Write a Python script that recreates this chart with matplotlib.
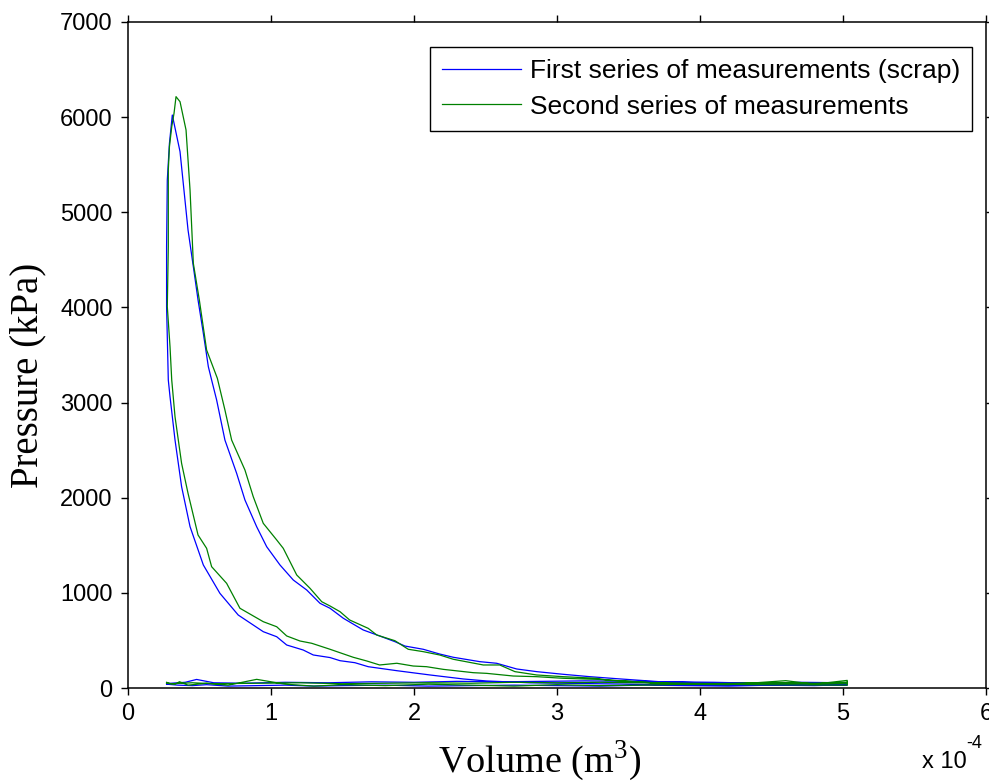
import matplotlib
matplotlib.use("Agg")
import matplotlib.pyplot as plt

# volume in units of 1e-4 m^3, pressure in kPa
# first series (scrap)
b_intake_v = [0.27, 0.35, 0.45, 0.55, 0.7, 0.9, 1.1, 1.3, 1.5, 1.8, 2.1, 2.4, 2.7, 3.0, 3.3, 3.6, 3.9, 4.2, 4.5, 4.8, 5.03]
b_intake_p = [40, 30, 25, 35, 20, 25, 30, 20, 25, 30, 20, 25, 30, 25, 20, 30, 25, 20, 30, 25, 35]

b_comp_v = [5.03, 4.4, 3.8, 3.277, 2.81, 2.508, 2.345, 2.112, 1.88, 1.68, 1.587, 1.483, 1.413, 1.296, 1.226,
            1.11, 1.04, 0.946, 0.771, 0.643, 0.527, 0.434, 0.375, 0.329, 0.294, 0.282, 0.27, 0.27, 0.275, 0.29]
b_comp_p = [30, 30, 35, 45, 55, 74, 95, 137, 182, 224, 266, 287, 320, 347, 399,
            452, 539, 592, 767, 995, 1293, 1696, 2116, 2606, 3062, 3237, 4008, 4638, 5339, 5725]

b_exp_v = [0.31, 0.364, 0.42, 0.457, 0.49, 0.527, 0.562, 0.585, 0.62, 0.678, 0.76, 0.818, 0.90, 0.97, 1.063,
           1.156, 1.25, 1.343, 1.413, 1.506, 1.645, 1.76, 1.867, 1.937, 2.065, 2.18, 2.275, 2.46, 2.578, 2.718,
           2.858, 3.044, 3.23, 3.417, 3.72, 4.0, 4.3, 4.6, 5.03]
b_exp_p = [6022, 5637, 4814, 4429, 4078, 3728, 3377, 3237, 3027, 2606, 2256, 1976, 1695, 1485, 1293,
           1135, 1030, 890, 838, 733, 610, 547, 487, 441, 407, 357, 323, 277, 260, 200,
           172, 144, 119, 98, 66, 55, 50, 45, 45]

b_exh_v = [5.03, 4.7, 4.4, 4.1, 3.8, 3.5, 3.2, 2.9, 2.6, 2.3, 2.0, 1.7, 1.4, 1.1, 0.8, 0.6, 0.48, 0.4, 0.3, 0.27]
b_exh_p = [55, 60, 50, 60, 65, 70, 75, 70, 65, 70, 60, 65, 55, 60, 50, 55, 90, 60, 50, 45]

# second series
g_intake_v = [0.27, 0.33, 0.36, 0.42, 0.55, 0.7, 0.9, 1.1, 1.3, 1.5, 1.8, 2.1, 2.4, 2.7, 3.0, 3.3, 3.6, 3.9, 4.2, 4.6, 4.8, 5.03]
g_intake_p = [50, 40, 66, 30, 50, 30, 91, 40, 20, 35, 25, 40, 30, 20, 35, 25, 30, 40, 35, 77, 40, 80]

g_comp_v = [5.03, 4.4, 3.8, 3.35, 3.277, 3.044, 2.858, 2.694, 2.508, 2.415, 2.205, 2.088, 1.995, 1.88, 1.76,
            1.67, 1.575, 1.413, 1.285, 1.203, 1.11, 1.04, 0.946, 0.783, 0.69, 0.585, 0.55, 0.49, 0.42, 0.375,
            0.329, 0.306, 0.294, 0.275, 0.282, 0.282, 0.29, 0.306, 0.322]
g_comp_p = [30, 35, 45, 84, 91, 102, 119, 126, 154, 161, 196, 224, 231, 260, 242,
            284, 323, 407, 470, 494, 547, 644, 697, 838, 1100, 1275, 1468, 1608, 2046, 2361,
            2851, 3237, 3587, 4008, 4638, 5444, 5690, 5900, 6040]

g_exp_v = [0.336, 0.364, 0.406, 0.434, 0.457, 0.499, 0.55, 0.625, 0.678, 0.725, 0.818, 0.876, 0.946, 1.04, 1.086,
           1.18, 1.273, 1.355, 1.413, 1.483, 1.55, 1.68, 1.74, 1.867, 1.96, 2.065, 2.18, 2.275, 2.485, 2.6,
           2.706, 2.858, 3.044, 3.277, 3.35, 3.72, 4.0, 4.3, 4.6, 4.8, 5.03]
g_exp_p = [6215, 6162, 5865, 5234, 4464, 4078, 3552, 3255, 2922, 2606, 2291, 2011, 1731, 1556, 1468,
           1188, 1048, 907, 862, 802, 715, 627, 557, 497, 407, 382, 347, 302, 242, 242,
           172, 137, 119, 102, 84, 49, 45, 50, 55, 45, 50]

g_exh_v = [5.03, 4.8, 4.5, 4.2, 3.9, 3.6, 3.3, 3.0, 2.7, 2.4, 2.1, 1.8, 1.5, 1.2, 0.9, 0.6, 0.45, 0.3, 0.27]
g_exh_p = [60, 50, 55, 45, 50, 55, 60, 55, 60, 50, 55, 50, 45, 55, 50, 45, 55, 45, 60]

x_ticks = [0, 1, 2, 3, 4, 5, 6]
y_ticks = [0, 1000, 2000, 3000, 4000, 5000, 6000, 7000]

plt.rcParams['font.family'] = ['Liberation Sans', 'DejaVu Sans']
plt.rcParams['mathtext.fontset'] = 'custom'
plt.rcParams['mathtext.rm'] = 'Liberation Serif'

fig = plt.figure(figsize=(9.89, 7.82), dpi=100)
ax = fig.add_axes([0.1294, 0.1202, 0.8675, 0.8517])

blue_v = b_intake_v + b_comp_v + b_exp_v + b_exh_v
blue_p = b_intake_p + b_comp_p + b_exp_p + b_exh_p
green_v = g_intake_v + g_comp_v + g_exp_v + g_exh_v
green_p = g_intake_p + g_comp_p + g_exp_p + g_exh_p

ax.plot(blue_v, blue_p, color=(0, 0, 1), lw=0.9, label='First series of measurements (scrap)')
ax.plot(green_v, green_p, color=(0, 0.5, 0), lw=0.9, label='Second series of measurements')

ax.set_xlim(0, 6)
ax.set_ylim(0, 7000)
ax.set_xticks(x_ticks)
ax.set_yticks(y_ticks)
ax.set_xticklabels([str(t) for t in x_ticks])
ax.tick_params(direction='out', top=True, right=True, length=5, width=1,
               labelsize=17, pad=6)
for s in ax.spines.values():
    s.set_linewidth(1.1)

ax.set_xlabel(r'Volume (m$^3$)', family='Liberation Serif', fontsize=27.5)
ax.xaxis.set_label_coords(0.48, -0.076)
ax.set_ylabel('Pressure (kPa)', family='Liberation Serif', fontsize=28)
ax.yaxis.set_label_coords(-0.095, 0.47)

# exponent label, MATLAB style
fig.text(0.932, 0.018, 'x 10', fontsize=17)
fig.text(0.977, 0.043, '-4', fontsize=13)

leg = ax.legend(loc='upper right', bbox_to_anchor=(0.984, 0.9625), borderaxespad=0,
                fancybox=False, framealpha=1, edgecolor='black', fontsize=19,
                handlelength=3.0, handletextpad=0.35, borderpad=0.45, labelspacing=0.45)
leg.get_frame().set_linewidth(1.0)

fig.savefig('out.png', dpi=100)
